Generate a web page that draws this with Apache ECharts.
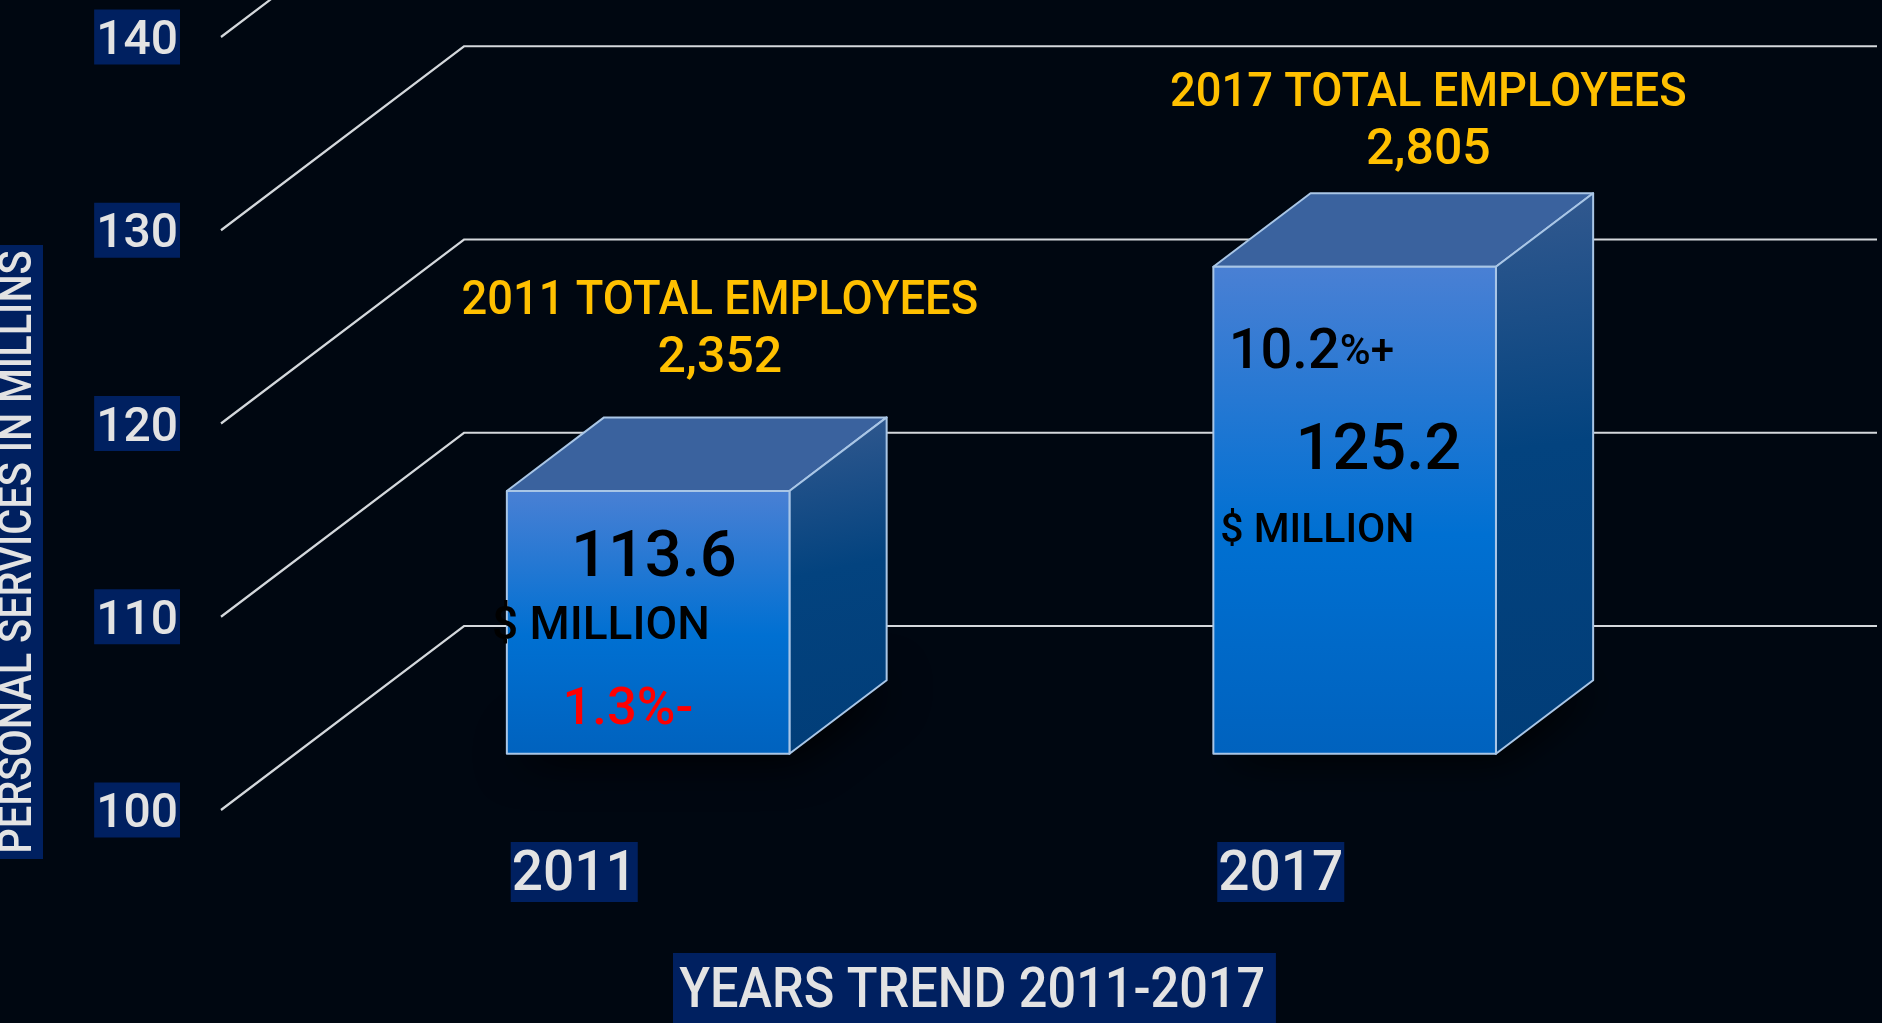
<!DOCTYPE html>
<html><head><meta charset="utf-8">
<style>html,body{margin:0;padding:0;background:#000711;overflow:hidden}#c{position:absolute;left:0;top:0;width:1882px;height:1023px}</style>
<script src="https://cdn.jsdelivr.net/npm/echarts@6/dist/echarts.min.js"></script>
</head><body><div id="c"></div>
<script>
const years = ['2011', '2017'];
const personalServices = [113.6, 125.2];
const yTicks = [100, 110, 120, 130, 140];
const employeeCaptions = ['2011 TOTAL EMPLOYEES', '2017 TOTAL EMPLOYEES'];
const employeeCounts = ['2,352', '2,805'];
const unitCaption = '$ MILLION';
const changeMain = ['1.3', '10.2'];
const changeSuffix = ['%-', '%+'];
const xTitle = 'YEARS TREND 2011-2017';
const yTitle = 'PERSONAL SERVICES IN MILLINS';

const FONT = 'Roboto,"Liberation Sans",sans-serif';
const WEIGHT = 500;
const NAVY = '#002060', TEXT = '#E3E3E3', GOLD = '#FFC000';
const DX = 243, DY = -184, FRONT = 0.3, BACK = 0.7;

function gridItem(params, api) {
  const v = api.value(0), cs = params.coordSys;
  const y = api.coord([0, v])[1], x0 = cs.x;
  return { type: 'polyline', silent: true,
    shape: { points: [[x0, y], [x0 + DX, y + DY], [x0 + cs.width + DX, y + DY]] },
    style: { fill: null, stroke: '#D4D8DC', lineWidth: 2.2 } };
}
function txt(x, y, text, size, fill, sx) {
  return { type: 'text', x, y, scaleX: sx || 1, style: { x: 0, y: 0, text, fill, fontSize: size, fontFamily: FONT, fontWeight: WEIGHT,
    align: 'center', verticalAlign: 'middle' } };
}
// text offsets from each bar's front-left-top corner
const noteLayout = [
  { cap: [213, -189], cnt: [213, -131], val: [147, 69], unit: [94, 137], chg: [121, 220], chgSize: 52.5, valSize: 65, unitSize: 46, chgFill: '#FF0000' },
  { cap: [215, -173], cnt: [215, -115], val: [165, 186], unit: [104, 265], chg: [98, 87], chgSize: 56, valSize: 65, unitSize: 41, chgFill: '#000000' }
];
function barItem(params, api) {
  const i = api.value(0), val = api.value(1);
  const band = api.size([1, 0])[0], w = band * 0.4;
  const base = api.coord([i, 100]), top = api.coord([i, val]);
  const ox = base[0] - w / 2 + DX * FRONT + 1, oy = DY * FRONT - 1;
  const ddx = DX * (BACK - FRONT), ddy = DY * (BACK - FRONT);
  const L = ox, R = ox + w, T = top[1] + oy, B = base[1] + oy;
  const line = { stroke: '#A9C6E6', lineWidth: 2, lineJoin: 'round' };
  const n = noteLayout[i];
  return { type: 'group', children: [
    { type: 'polygon', shape: { points: [[L, B], [R, B], [R + ddx, B + ddy], [L + ddx, B + ddy]] },
      style: { fill: '#000000', shadowBlur: 45, shadowColor: '#000000', shadowOffsetX: 6, shadowOffsetY: 4 } },
    { type: 'polygon', shape: { points: [[L, T], [R, T], [R + ddx, T + ddy], [L + ddx, T + ddy]] },
      style: Object.assign({ fill: '#3A629E' }, line) },
    { type: 'polygon', shape: { points: [[R, T], [R + ddx, T + ddy], [R + ddx, B + ddy], [R, B]] },
      style: Object.assign({ fill: new echarts.graphic.LinearGradient(0.15, 0, 0.85, 1, [
        { offset: 0, color: '#33598F' }, { offset: 0.45, color: '#03437F' }, { offset: 1, color: '#013D78' }]) }, line) },
    { type: 'rect', shape: { x: L, y: T, width: w, height: B - T },
      style: Object.assign({ fill: new echarts.graphic.LinearGradient(0, 0, 0, 1, [
        { offset: 0, color: '#4A80D4' }, { offset: 0.55, color: '#0070D2' }, { offset: 1, color: '#0062BE' }]) }, line) },
    txt(L + n.cap[0], T + n.cap[1], employeeCaptions[i], 49, GOLD, 0.925),
    txt(L + n.cnt[0], T + n.cnt[1], employeeCounts[i], 50, GOLD),
    txt(L + n.val[0], T + n.val[1], String(val), n.valSize, '#000000'),
    txt(L + n.unit[0], T + n.unit[1], unitCaption, n.unitSize, '#000000'),
    { type: 'text', style: { x: L + n.chg[0], y: T + n.chg[1], align: 'center', verticalAlign: 'middle',
      text: '{a|' + changeMain[i] + '}{b|' + changeSuffix[i] + '}',
      rich: { a: { fontSize: n.chgSize, fontFamily: FONT, fontWeight: WEIGHT, fill: n.chgFill, color: n.chgFill },
              b: { fontSize: i ? 42 : n.chgSize, fontFamily: FONT, fontWeight: WEIGHT, fill: n.chgFill, color: n.chgFill } } } }
  ] };
}

const chart = echarts.init(document.getElementById('c'), null, { renderer: 'canvas' });
chart.setOption({
  animation: false,
  backgroundColor: '#000711',
  grid: { left: 221, top: 37, width: 1413, height: 773, containLabel: false },
  xAxis: { type: 'category', data: years, axisLine: { show: false }, axisTick: { show: false }, splitLine: { show: false },
    axisLabel: { margin: 32, color: TEXT, fontSize: 55, fontFamily: FONT, fontWeight: WEIGHT, backgroundColor: NAVY, padding: [9, 1, 0, 1], lineHeight: 51 } },
  yAxis: { type: 'value', min: yTicks[0], max: yTicks[yTicks.length - 1], interval: 10,
    axisLine: { show: false }, axisTick: { show: false }, splitLine: { show: false },
    axisLabel: { margin: 41, color: TEXT, fontSize: 48, fontFamily: FONT, fontWeight: WEIGHT, backgroundColor: NAVY, padding: [0, 2, 0, 2],
      formatter: v => '{v|' + v + '}',
      rich: { v: { color: TEXT, fontSize: 48, fontFamily: FONT, fontWeight: WEIGHT, padding: [10, 0, 0, 0], lineHeight: 55 } } } },
  graphic: [
    { type: 'text', x: 673, y: 953, scaleX: 0.9, z: 10, style: { text: xTitle, fill: TEXT, fontSize: 56, fontFamily: FONT, fontWeight: WEIGHT,
      backgroundColor: NAVY, padding: [12, 12, 2, 7] } },
    { type: 'text', x: 19, y: 552, rotation: Math.PI / 2, scaleX: 0.865, z: 10, style: { text: yTitle, fill: TEXT, fontSize: 46, fontFamily: FONT, fontWeight: WEIGHT,
      align: 'center', verticalAlign: 'middle', backgroundColor: NAVY, padding: [0, 6, 2, 6] } }
  ],
  series: [
    { type: 'custom', coordinateSystem: 'cartesian2d', z: 1, renderItem: gridItem, encode: { y: 0 }, data: yTicks.map(v => [v]) },
    { type: 'custom', coordinateSystem: 'cartesian2d', z: 2, renderItem: barItem, encode: { x: 0, y: 1 },
      data: personalServices.map((v, i) => [i, v]) }
  ]
});
</script></body></html>
